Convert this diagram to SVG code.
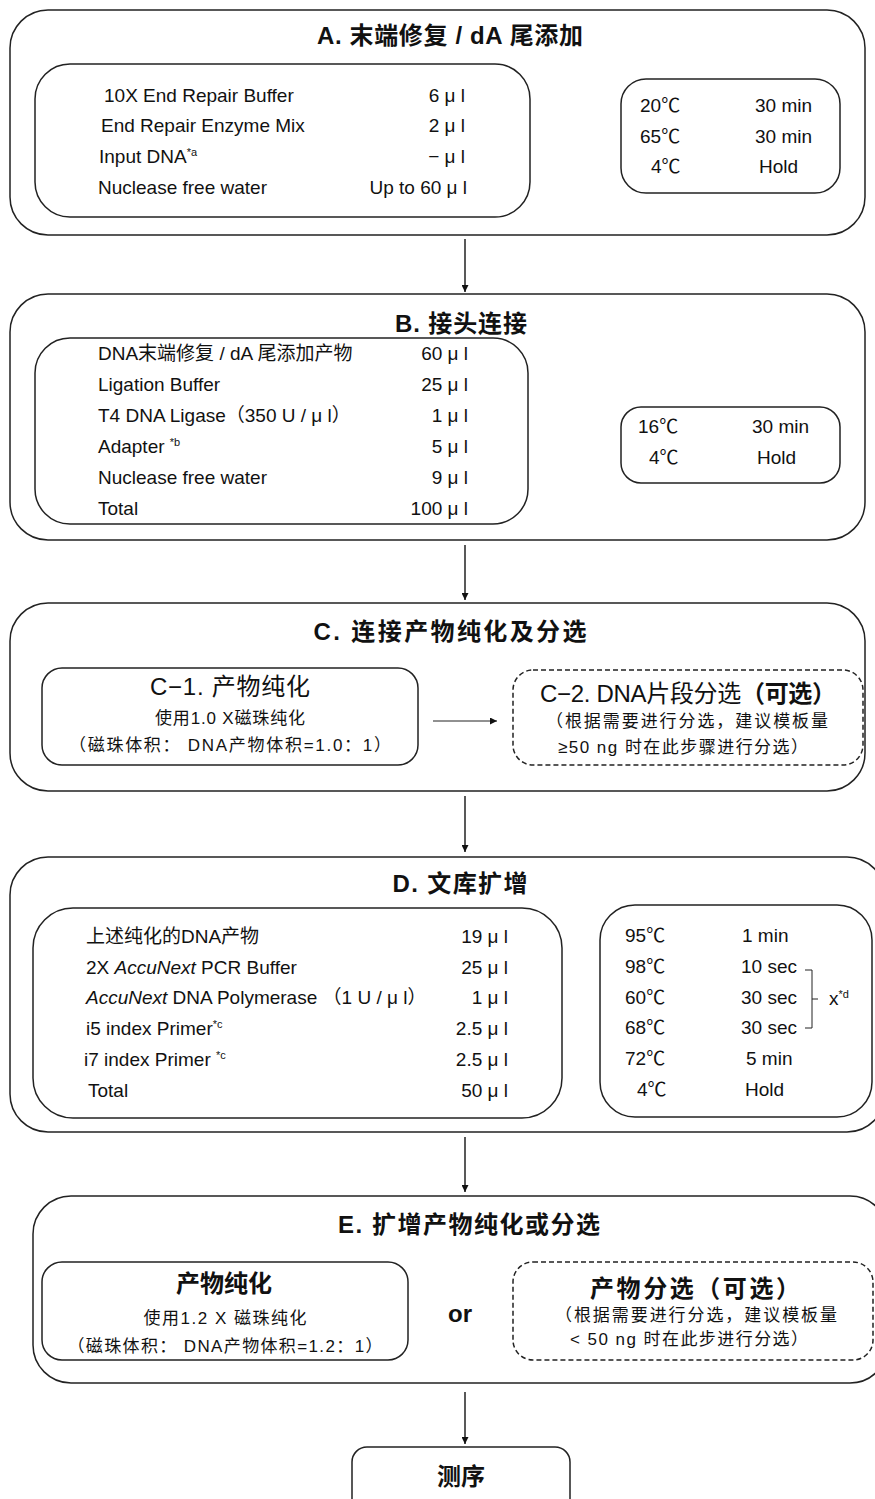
<svg xmlns="http://www.w3.org/2000/svg" width="875" height="1499" viewBox="0 0 875 1499">
<defs>
<style>
text{font-family:'Liberation Sans','Noto Sans CJK SC',sans-serif;fill:#111;font-size:19px}
.box{fill:none;stroke:#222;stroke-width:1.5}
.dash{fill:none;stroke:#222;stroke-width:1.5;stroke-dasharray:5 3}
.title{font-size:24px;font-weight:bold;text-anchor:middle}
.v{text-anchor:end}
.c{text-anchor:middle}
.sub{font-size:17px}
.h24{font-size:24px}
.sup{font-size:11px}
.line{stroke:#222;stroke-width:1.5;fill:none}
</style>
<marker id="ah" viewBox="0 0 10 10" refX="10" refY="5" markerWidth="7" markerHeight="7" markerUnits="userSpaceOnUse" orient="auto"><path d="M0,0L10,5L0,10z" fill="#111"/></marker>
</defs>

<g id="nodeA">
<rect class="box" x="10" y="10" width="855" height="225" rx="38"/>
<text class="title" x="450" y="44" textLength="266" lengthAdjust="spacing">A. 末端修复 / dA 尾添加</text>
<rect class="box" x="35" y="64" width="495" height="153" rx="35"/>
<text x="104" y="102">10X End Repair Buffer</text>
<text x="101" y="132">End Repair Enzyme Mix</text>
<text x="99" y="163">Input DNA<tspan class="sup" dy="-7">*a</tspan></text>
<text x="98" y="194">Nuclease free water</text>
<text class="v" x="465" y="102">6 μ l</text>
<text class="v" x="465" y="132">2 μ l</text>
<text class="v" x="465" y="163">− μ l</text>
<text class="v" x="467" y="194">Up to 60 μ l</text>
<rect class="box" x="621" y="79" width="219" height="114" rx="25"/>
<text x="640" y="112">20℃</text><text x="755" y="112">30 min</text>
<text x="640" y="143">65℃</text><text x="755" y="143">30 min</text>
<text x="651" y="173">4℃</text><text x="759" y="173">Hold</text>
</g>

<g id="nodeB">
<rect class="box" x="10" y="294" width="855" height="246" rx="38"/>
<text class="title" x="461" y="332" textLength="132" lengthAdjust="spacing">B. 接头连接</text>
<rect class="box" x="35" y="338" width="493" height="186" rx="35"/>
<text x="98" y="360">DNA末端修复 / dA 尾添加产物</text>
<text x="98" y="391">Ligation Buffer</text>
<text x="98" y="422">T4 DNA Ligase（350 U / μ l）</text>
<text x="98" y="453">Adapter <tspan class="sup" dy="-7">*b</tspan></text>
<text x="98" y="484">Nuclease free water</text>
<text x="98" y="515">Total</text>
<text class="v" x="468" y="360">60 μ l</text>
<text class="v" x="468" y="391">25 μ l</text>
<text class="v" x="468" y="422">1 μ l</text>
<text class="v" x="468" y="453">5 μ l</text>
<text class="v" x="468" y="484">9 μ l</text>
<text class="v" x="468" y="515">100 μ l</text>
<rect class="box" x="621" y="407" width="219" height="76" rx="20"/>
<text x="638" y="433">16℃</text><text x="752" y="433">30 min</text>
<text x="649" y="464">4℃</text><text x="757" y="464">Hold</text>
</g>

<g id="nodeC">
<rect class="box" x="10" y="603" width="855" height="188" rx="38"/>
<text class="title" x="450" y="640" textLength="273" lengthAdjust="spacing">C. 连接产物纯化及分选</text>
</g>
<g id="nodeC1">
<rect class="box" x="42" y="668" width="376" height="97" rx="20"/>
<text class="c h24" x="230" y="695" textLength="160" lengthAdjust="spacing">C−1. 产物纯化</text>
<text class="c sub" x="230" y="724" textLength="150" lengthAdjust="spacing">使用1.0 X磁珠纯化</text>
<text class="c sub" x="230" y="751" textLength="322" lengthAdjust="spacing">（磁珠体积： DNA产物体积=1.0：1）</text>
</g>
<g id="nodeC2">
<rect class="dash" x="513" y="670" width="350" height="95" rx="20"/>
<text class="c h24" x="688" y="702" textLength="296" lengthAdjust="spacing">C−2. DNA片段分选<tspan font-weight="bold">（可选）</tspan></text>
<text class="c sub" x="687" y="727" textLength="282" lengthAdjust="spacing">（根据需要进行分选，建议模板量</text>
<text class="c sub" x="683" y="753" textLength="250" lengthAdjust="spacing">≥50 ng 时在此步骤进行分选）</text>
</g>

<g id="nodeD">
<rect class="box" x="10" y="857" width="875" height="275" rx="38"/>
<text class="title" x="460" y="892" textLength="135" lengthAdjust="spacing">D. 文库扩增</text>
<rect class="box" x="33" y="908" width="529" height="210" rx="40"/>
<text x="86" y="943">上述纯化的DNA产物</text>
<text x="86" y="974">2X <tspan font-style="italic">AccuNext</tspan> PCR Buffer</text>
<text x="86" y="1004"><tspan font-style="italic">AccuNext</tspan> DNA Polymerase （1 U / μ l）</text>
<text x="86" y="1035">i5 index Primer<tspan class="sup" dy="-7">*c</tspan></text>
<text x="84" y="1066">i7 index Primer <tspan class="sup" dy="-7">*c</tspan></text>
<text x="88" y="1097">Total</text>
<text class="v" x="508" y="943">19 μ l</text>
<text class="v" x="508" y="974">25 μ l</text>
<text class="v" x="508" y="1004">1 μ l</text>
<text class="v" x="508" y="1035">2.5 μ l</text>
<text class="v" x="508" y="1066">2.5 μ l</text>
<text class="v" x="508" y="1097">50 μ l</text>
<rect class="box" x="600" y="905" width="272" height="212" rx="35"/>
<text x="625" y="942">95℃</text><text x="742" y="942">1 min</text>
<text x="625" y="973">98℃</text><text x="741" y="973">10 sec</text>
<text x="625" y="1004">60℃</text><text x="741" y="1004">30 sec</text>
<text x="625" y="1034">68℃</text><text x="741" y="1034">30 sec</text>
<text x="625" y="1065">72℃</text><text x="746" y="1065">5 min</text>
<text x="637" y="1096">4℃</text><text x="745" y="1096">Hold</text>
<path class="line" style="stroke-width:1" d="M805,970H812V1028H805M812,999H818"/>
<text x="829" y="1005">x<tspan class="sup" dy="-7">*d</tspan></text>
</g>

<g id="nodeE">
<rect class="box" x="33" y="1196" width="855" height="187" rx="38"/>
<text class="title" x="469" y="1233" textLength="262" lengthAdjust="spacing">E. 扩增产物纯化或分选</text>
<text class="c h24" x="460" y="1322" font-weight="bold">or</text>
</g>
<g id="nodeE1">
<rect class="box" x="42" y="1262" width="366" height="98" rx="20"/>
<text class="c h24" x="224" y="1292" font-weight="bold">产物纯化</text>
<text class="c sub" x="225" y="1324" textLength="163" lengthAdjust="spacing">使用1.2 X 磁珠纯化</text>
<text class="c sub" x="225" y="1352" textLength="315" lengthAdjust="spacing">（磁珠体积： DNA产物体积=1.2：1）</text>
</g>
<g id="nodeE2">
<rect class="dash" x="513" y="1262" width="360" height="98" rx="20"/>
<text class="c h24" x="695" y="1297" font-weight="bold" textLength="210" lengthAdjust="spacing">产物分选（可选）</text>
<text class="c sub" x="696" y="1321" textLength="282" lengthAdjust="spacing">（根据需要进行分选，建议模板量</text>
<text class="c sub" x="689" y="1345" textLength="238" lengthAdjust="spacing">&lt; 50 ng 时在此步进行分选）</text>
</g>

<g id="nodeSeq">
<rect class="box" x="352" y="1447" width="218" height="70" rx="15"/>
<text class="c h24" x="461" y="1485" font-weight="bold">测序</text>
</g>

<g id="connectors">
<line class="line" x1="465" y1="239" x2="465" y2="292" marker-end="url(#ah)"/>
<line class="line" x1="465" y1="545" x2="465" y2="600" marker-end="url(#ah)"/>
<line class="line" x1="465" y1="796" x2="465" y2="852" marker-end="url(#ah)"/>
<line class="line" x1="465" y1="1137" x2="465" y2="1192" marker-end="url(#ah)"/>
<line class="line" x1="465" y1="1392" x2="465" y2="1444" marker-end="url(#ah)"/>
<line class="line" style="stroke-width:1" x1="433" y1="721" x2="497" y2="721" marker-end="url(#ah)"/>
</g>
</svg>
